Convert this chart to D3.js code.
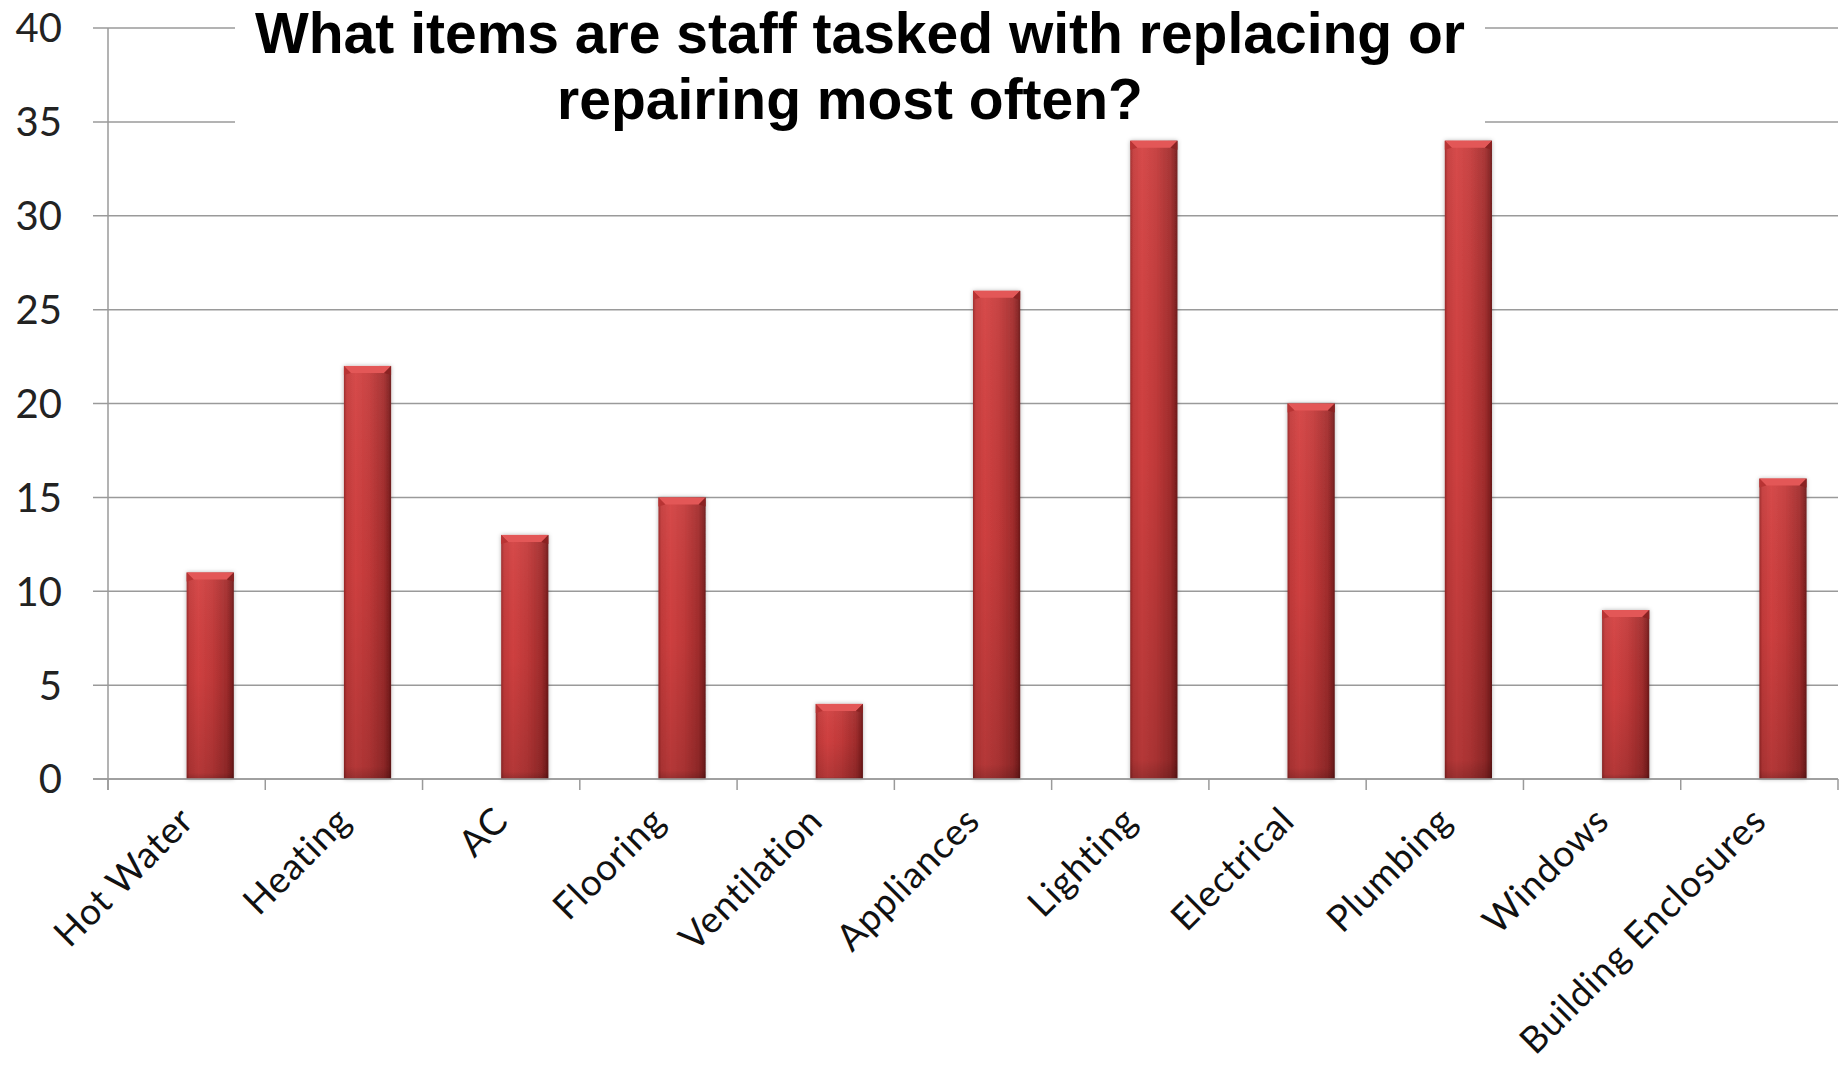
<!DOCTYPE html>
<html>
<head>
<meta charset="utf-8">
<script src="https://cdn.jsdelivr.net/npm/d3@7"></script>
<style>
  html, body { margin: 0; padding: 0; background: #ffffff; }
  svg { display: block; }
</style>
</head>
<body>
<script>
const categories = ["Hot Water", "Heating", "AC", "Flooring", "Ventilation", "Appliances",
  "Lighting", "Electrical", "Plumbing", "Windows", "Building Enclosures"];
const values = [11, 22, 13, 15, 4, 26, 34, 20, 34, 9, 16];
const yTicks = [0, 5, 10, 15, 20, 25, 30, 35, 40];
const titleLines = ["What items are staff tasked with replacing or", "repairing most often?"];

const W = 1841, H = 1065;
const svg = d3.select("body").append("svg").attr("width", W).attr("height", H);

const x = d3.scaleBand().domain(categories).range([108, 1838]).padding(0);
const y = d3.scaleLinear().domain([0, 40]).range([779, 28]);
const bw = x.bandwidth();

const defs = svg.append("defs");
const hg = defs.append("linearGradient").attr("id", "barH").attr("x1", 0).attr("x2", 1).attr("y1", 0).attr("y2", 0);
[[0, "#9a2828"], [0.06, "#c43a3a"], [0.25, "#d44242"], [0.55, "#c43a3a"], [0.85, "#a42d2d"], [0.95, "#862121"], [1, "#6a1818"]]
  .forEach(([o, c]) => hg.append("stop").attr("offset", o).attr("stop-color", c));
const vg = defs.append("linearGradient").attr("id", "barV").attr("x1", 0).attr("x2", 0).attr("y1", 0).attr("y2", 1);
[[0, "#ffffff", 0.05], [0.5, "#000000", 0.03], [0.97, "#000000", 0.15], [1, "#000000", 0.28]]
  .forEach(([o, c, a]) => vg.append("stop").attr("offset", o).attr("stop-color", c).attr("stop-opacity", a));
const flt = defs.append("filter").attr("id", "shadow").attr("x", "-30%").attr("y", "-10%").attr("width", "160%").attr("height", "120%");
flt.append("feDropShadow").attr("dx", 0).attr("dy", 0).attr("stdDeviation", 2).attr("flood-color", "#000").attr("flood-opacity", 0.3);

// gridlines
const grid = svg.append("g");
grid.selectAll("line").data(yTicks).join("line")
  .attr("x1", 93).attr("x2", 1838)
  .attr("y1", d => y(d)).attr("y2", d => y(d))
  .attr("stroke", "#9a9a9a").attr("stroke-width", 1.5);

// y axis line
svg.append("line").attr("x1", 108).attr("x2", 108).attr("y1", y(40)).attr("y2", y(0) + 11)
  .attr("stroke", "#9a9a9a").attr("stroke-width", 1.5);

// x axis ticks at band boundaries
const bounds = categories.map(c => x(c)).concat([x(categories[categories.length - 1]) + bw]);
svg.append("g").selectAll("line").data(bounds).join("line")
  .attr("x1", d => d).attr("x2", d => d).attr("y1", y(0)).attr("y2", y(0) + 11)
  .attr("stroke", "#9a9a9a").attr("stroke-width", 1.5);

// y tick labels
svg.append("g").selectAll("text").data(yTicks).join("text")
  .attr("x", 62).attr("y", d => y(d)).attr("dy", "0.36em")
  .attr("text-anchor", "end")
  .attr("font-family", "'Century Gothic', Lato, 'Open Sans', sans-serif")
  .attr("font-size", 40).attr("fill", "#222")
  .text(d => d);

// bars
const bars = svg.append("g");
const bx = d => x(d.c) + bw * 0.5;
const bwid = bw * 0.3;
const data = categories.map((c, i) => ({ c, v: values[i] }));
const bg = bars.selectAll("g").data(data).join("g");
bg.append("rect")
  .attr("x", bx).attr("y", d => y(d.v)).attr("width", bwid).attr("height", d => y(0) - y(d.v))
  .attr("fill", "url(#barH)").attr("filter", "url(#shadow)");
bg.append("rect")
  .attr("x", bx).attr("y", d => y(d.v)).attr("width", bwid).attr("height", d => y(0) - y(d.v))
  .attr("fill", "url(#barV)");
// top bevel
bg.append("path")
  .attr("d", d => {
    const x0 = bx(d), x1 = x0 + bwid, t = y(d.v), b = 7;
    return `M${x0},${t} L${x1},${t} L${x1 - b},${t + b} L${x0 + b},${t + b} Z`;
  })
  .attr("fill", "#e35757");
bg.append("path")
  .attr("d", d => {
    const x0 = bx(d), t = y(d.v), b = 7;
    return `M${x0},${t} L${x0 + b},${t + b} L${x0},${t + b + 2} Z`;
  })
  .attr("fill", "#b83434");
bg.append("path")
  .attr("d", d => {
    const x1 = bx(d) + bwid, t = y(d.v), b = 7;
    return `M${x1},${t} L${x1 - b},${t + b} L${x1},${t + b + 2} Z`;
  })
  .attr("fill", "#8a2222");

// x axis baseline
svg.append("line").attr("x1", 93).attr("x2", 1838).attr("y1", y(0)).attr("y2", y(0))
  .attr("stroke", "#9a9a9a").attr("stroke-width", 1.5);

// category labels
svg.append("g").selectAll("text").data(categories).join("text")
  .attr("transform", c => `translate(${x(c) + bw / 2 + 9},${y(0) + 44}) rotate(-45)`)
  .attr("text-anchor", "end")
  .attr("font-family", "'Century Gothic', Lato, 'Open Sans', sans-serif")
  .attr("font-size", 37).attr("letter-spacing", 0.8).attr("fill", "#111")
  .text(c => c);

// title with white background
svg.append("rect").attr("x", 235).attr("y", 0).attr("width", 1250).attr("height", 135).attr("fill", "#fff");
const title = svg.append("g").attr("font-family", "'Liberation Sans', Arial, sans-serif")
  .attr("font-weight", "bold").attr("font-size", 57).attr("fill", "#000").attr("text-anchor", "middle");
title.append("text").attr("x", 860).attr("y", 53).text(titleLines[0]);
title.append("text").attr("x", 850).attr("y", 119).text(titleLines[1]);
</script>
</body>
</html>
